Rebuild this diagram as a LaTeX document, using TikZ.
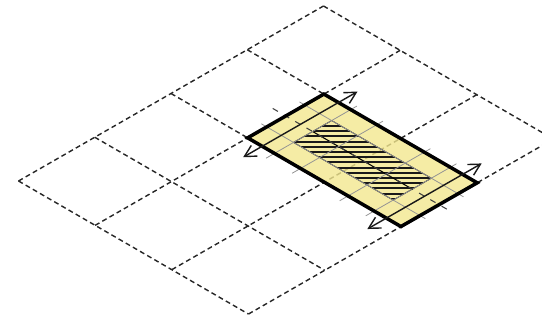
\documentclass[tikz,border=0pt]{standalone}
\usetikzlibrary{arrows.meta}
\definecolor{padyellow}{RGB}{242,231,142}
\tikzset{
    gridline/.style={black!85, line width=0.8pt, dash pattern=on 2.8pt off 1.9pt},
    guideline/.style={black!42, line width=0.45pt},
    axisline/.style={black!75, line width=0.6pt, dash pattern=on 3.4pt off 4pt},
    hatchline/.style={black!90, line width=1.15pt},
    moveline/.style={black!90, line width=0.8pt, {Straight Barb[length=6.5pt,width=7pt]}-{Straight Barb[length=6.5pt,width=7pt]}}
}
\begin{document}
\begin{tikzpicture}[x={(1.525cm,0.875cm)}, y={(1.533cm,-0.887cm)}]
    \useasboundingbox (-0.37cm,-2.82cm) rectangle (10.47cm,3.62cm);
    \clip (-0.37cm,-2.82cm) rectangle (10.47cm,3.62cm);
    % Ground grid
    \foreach \i in {0,...,4}
        \draw[gridline] (\i,0) -- (\i,3);
    \foreach \j in {0,...,3}
        \draw[gridline] (0,\j) -- (4,\j);
    % Pad
    \fill[padyellow, fill opacity=0.8] (2,1) -- (3,1) -- (3,3) -- (2,3) -- cycle;
    % Hatched core
    \begin{scope}
        \clip (2.25,1.35) -- (2.75,1.35) -- (2.75,2.65) -- (2.25,2.65) -- cycle;
        \foreach \h in {0,...,14}
            \draw[hatchline] (5cm,{(1.1-0.104*\h)*1cm}) -- (9cm,{(1.1-0.104*\h)*1cm});
    \end{scope}
    \draw[black, line width=0.45pt] (2.25,1.35) -- (2.75,1.35) -- (2.75,2.65) -- (2.25,2.65) -- cycle;
    \draw[black, line width=0.6pt] (2.5,1.35) -- (2.5,2.65);
    % Guides
    \foreach \j in {1.35,1.69,2.31,2.65}
        \draw[guideline] (1.89,\j) -- (3.08,\j);
    \foreach \i in {2.25,2.75}
        \draw[guideline] (\i,0.93) -- (\i,3.07);
    \draw[axisline] (2.5,0.83) -- (2.5,3.15);
    % Pad outline
    \draw[black, line width=2pt] (2,1) -- (3,1) -- (3,3) -- (2,3) -- cycle;
    % Arrows
    \foreach \j in {1.19,2.81}
        \draw[moveline] (1.75,\j) -- (3.25,\j);
\end{tikzpicture}
\end{document}
